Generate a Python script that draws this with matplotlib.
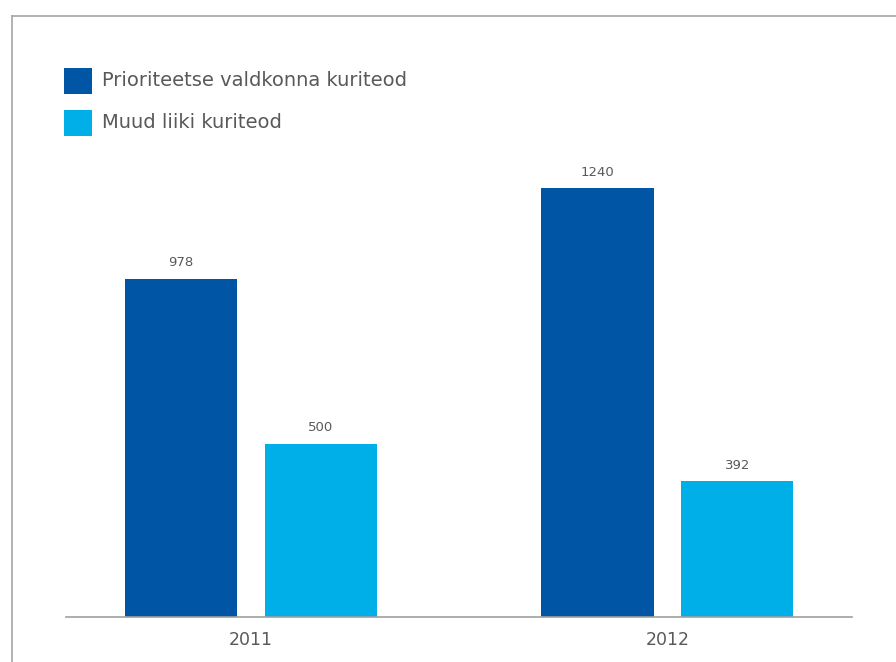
import matplotlib.pyplot as plt
from matplotlib.lines import Line2D
from matplotlib.patches import Rectangle
import numpy as np

years = ['2011', '2012']
prioriteetsed = [978, 1240]
muud = [500, 392]
sarja_nimed = ['Prioriteetse valdkonna kuriteod', 'Muud liiki kuriteod']
varvid = ['#0055a5', '#00aee8']
tekst = '#595959'

plt.rcParams['font.family'] = ['DejaVu Sans']

fig = plt.figure(figsize=(8.96, 6.62), dpi=100)
ax = fig.add_axes([66 / 896, 45 / 662, 786 / 896, 467 / 662])

x = np.arange(len(years))
laius = 0.269
nihe = 0.168
b1 = ax.bar(x - nihe, prioriteetsed, laius, color=varvid[0])
b2 = ax.bar(x + nihe, muud, laius, color=varvid[1])

# väärtused tulpade kohal
for bars in (b1, b2):
    for r in bars:
        ax.annotate(str(int(r.get_height())), (r.get_x() + r.get_width() / 2, r.get_height()),
                    xytext=(0, 7), textcoords='offset points', ha='center', va='bottom',
                    fontsize=9.5, color=tekst)

ax.set_xlim(-0.444, 1.443)
ax.set_ylim(0, 1351)
ax.set_xticks(x)
ax.set_xticklabels(years, fontsize=12.5, color=tekst)
ax.tick_params(axis='x', length=0, pad=10)
ax.set_yticks([])
for s in ['left', 'right', 'top']:
    ax.spines[s].set_visible(False)
ax.spines['bottom'].set_color('#a0a0a0')
ax.spines['bottom'].set_linewidth(1.2)

# legend käsitsi ruutudega
for i, (nimi, c) in enumerate(zip(sarja_nimed, varvid)):
    y0 = 1 - (94 + 42 * i) / 662
    fig.add_artist(Rectangle((64 / 896, y0), 28 / 896, 26 / 662, transform=fig.transFigure,
                             color=c, lw=0))
    fig.text(102 / 896, y0 + 13 / 662, nimi, fontsize=14, color=tekst, va='center', ha='left')

# raam
fig.add_artist(Line2D([12 / 896, 12 / 896], [0, 1 - 16 / 662], transform=fig.transFigure,
                      color='#a6a6a6', lw=1.2))
fig.add_artist(Line2D([12 / 896, 1], [1 - 16 / 662, 1 - 16 / 662], transform=fig.transFigure,
                      color='#a6a6a6', lw=1.2))

fig.savefig('out.png', dpi=100)
